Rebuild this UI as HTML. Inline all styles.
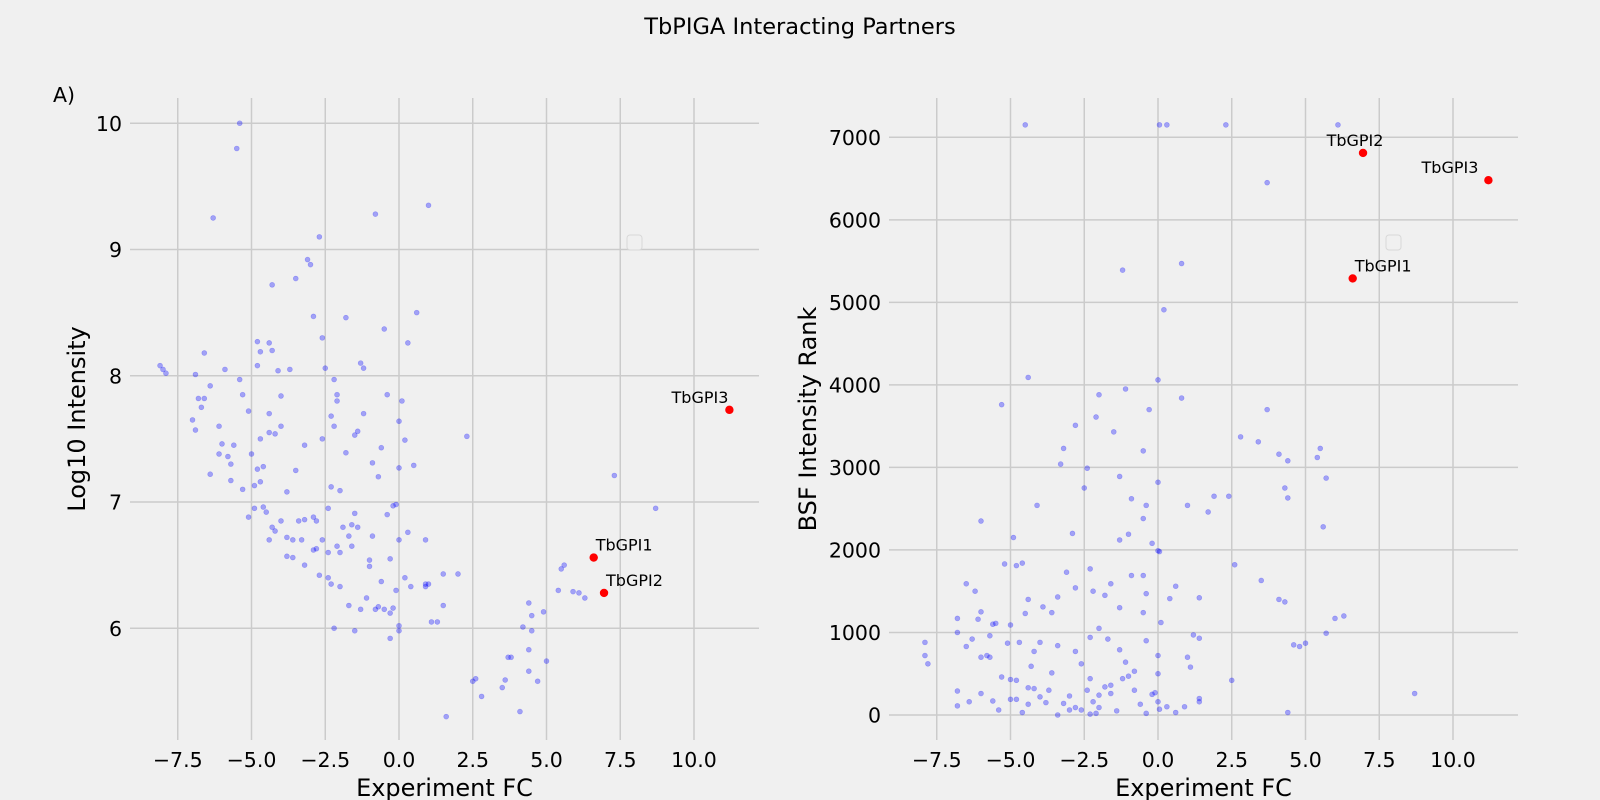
<!DOCTYPE html>
<html><head><meta charset="utf-8"><style>
body{margin:0;background:#f0f0f0;}
svg{display:block;font-family:"DejaVu Sans","Liberation Sans",sans-serif;}
</style></head><body>
<svg id="chart" width="1600" height="800" viewBox="0 0 1600 800">
<rect width="1600" height="800" fill="#f0f0f0"/>
<text x="800" y="34" font-size="22.5" text-anchor="middle" fill="#000">TbPIGA Interacting Partners</text>
<text x="53" y="102" font-size="20.5" fill="#000">A)</text>
<g id="left"></g>
<g id="right"></g>
</svg>
<script>
// Left panel data: Experiment FC vs Log10 Intensity
const leftX=[-8.1,-8.0,-7.9,-7.0,-6.9,-6.9,-6.8,-6.7,-6.6,-6.6,-6.4,-6.3,-6.4,-6.1,-6.1,-6.0,-5.9,-5.8,-5.7,-5.7,-5.6,-5.5,-5.4,-5.4,-5.3,-5.3,-5.1,-5.1,-5.0,-4.9,-4.8,-4.8,-4.8,-4.7,-4.7,-4.6,-4.7,-4.6,-4.5,-4.4,-4.4,-4.4,-4.3,-4.3,-4.3,-4.2,-4.2,-4.1,-4.0,-4.0,-3.8,-3.8,-3.7,-3.6,-3.5,-3.5,-3.3,-3.2,-3.2,-3.1,-3.0,-2.9,-2.9,-2.8,-2.7,-2.6,-2.6,-2.5,-2.4,-2.4,-2.3,-2.3,-2.2,-2.2,-2.1,-2.1,-2.0,-2.0,-2.0,-1.8,-1.8,-1.7,-1.6,-1.5,-1.5,-1.4,-1.3,-1.2,-1.2,-1.1,-1.0,-0.9,-0.9,-0.8,-0.7,-0.6,-0.5,-0.4,-0.4,-0.3,-0.2,-0.1,0.0,0.0,0.0,0.1,0.2,0.3,0.3,0.5,0.6,0.9,1.0,0.9,1.1,1.3,1.5,1.5,2.0,2.3,2.5,2.6,2.8,3.5,3.6,3.7,3.8,4.1,4.2,4.4,4.4,4.4,4.5,4.5,4.7,4.9,5.0,5.4,5.5,5.6,5.9,6.1,6.3,7.3,8.7,1.6,-0.3,-0.5,-0.6,-0.8,-1.0,-1.3,-1.5,-2.2,-2.4,-2.6,-2.8,-3.2,-3.6,-1.9,-1.6,-2.3,-0.1,0.2,0.9,-0.3,0.0,0.0,1.0,-1.7,-0.2,-0.7,0.4,-2.1,-1.4,-2.9,-3.4,-4.0,-4.4,-4.9,-3.8,-2.7];
const leftY=[8.08,8.05,8.02,7.65,7.57,8.01,7.82,7.75,7.82,8.18,7.22,9.25,7.92,7.38,7.6,7.46,8.05,7.36,7.3,7.17,7.45,9.8,10.0,7.97,7.85,7.1,7.72,6.88,7.38,7.13,8.27,8.08,7.26,7.5,8.19,6.96,7.16,7.28,6.92,7.7,8.26,7.55,6.8,8.2,8.72,7.54,6.77,8.04,7.84,7.6,6.72,7.08,8.05,6.56,7.25,8.77,6.7,6.86,7.45,8.92,8.88,8.47,6.62,6.85,9.1,7.5,8.3,8.06,6.95,6.6,7.12,7.68,7.6,7.97,7.85,7.8,7.09,6.6,6.33,8.46,7.39,6.73,6.82,7.53,6.91,7.56,8.1,8.06,7.7,6.24,6.54,7.31,6.73,9.28,7.2,7.43,8.37,7.85,6.9,6.55,6.97,6.98,6.7,7.64,7.27,7.8,7.49,8.26,6.76,7.29,8.5,6.7,9.35,6.35,6.05,6.05,6.43,6.18,6.43,7.52,5.58,5.6,5.46,5.53,5.59,5.77,5.77,5.34,6.01,6.2,5.83,5.66,5.98,6.1,5.58,6.13,5.74,6.3,6.47,6.5,6.29,6.28,6.24,7.21,6.95,5.3,6.12,6.15,6.37,6.15,6.49,6.15,5.98,6.0,6.4,6.7,6.63,6.5,6.7,6.8,6.65,6.35,6.3,6.4,6.33,5.92,5.98,6.02,6.35,6.18,6.16,6.17,6.33,6.65,6.8,6.88,6.85,6.85,6.7,6.95,6.57,6.42];
const hitNames=["TbGPI3","TbGPI1","TbGPI2"];
const hitX=[11.2,6.6,6.95];
const hitYLeft=[7.73,6.56,6.28];
const hitYRight=[6480,5290,6810];
// Right panel data: Experiment FC vs BSF Intensity Rank
const rightX=[-4.5,0.05,0.3,2.3,6.1,3.7,-1.2,0.8,0.2,-4.4,-5.3,0.0,-1.1,-2.0,-0.3,3.7,0.8,-2.1,-2.8,-1.5,2.8,3.4,4.1,4.4,5.5,5.4,5.7,-3.2,-3.3,-2.4,-0.5,0.0,-1.3,-0.9,1.0,1.7,1.9,2.4,4.3,4.4,5.6,-4.1,-0.4,-0.5,-0.2,-2.5,-2.9,-1.3,-1.0,0.0,0.05,-6.0,-4.9,-4.8,-4.6,-5.2,-3.1,-2.3,-1.6,-0.5,0.6,2.6,3.5,4.1,4.3,6.0,6.3,5.7,4.6,4.8,5.0,1.2,1.4,1.4,0.4,0.1,-0.4,-0.5,-0.9,-1.3,-1.8,-2.2,-2.8,-3.4,-3.6,-3.9,-4.4,-4.5,-5.0,-5.5,-5.7,-6.0,-6.2,-6.5,-6.8,-6.5,-7.9,-7.8,-7.9,-6.8,-6.3,-6.0,-5.8,-5.7,-5.1,-4.7,-4.2,-4.0,-3.4,-2.8,-2.3,-2.0,-1.7,-1.3,-0.8,-0.4,0.0,0.0,1.0,1.1,2.5,4.4,8.7,-6.8,-6.8,-6.4,-6.0,-5.6,-5.4,-5.0,-4.8,-4.8,-4.6,-4.4,-4.2,-4.0,-3.8,-3.6,-3.4,-3.2,-3.0,-2.8,-2.6,-2.4,-2.2,-2.0,-2.0,-1.8,-1.6,-1.4,-1.2,-1.0,-0.8,-0.6,-0.4,-0.2,0.0,0.3,0.6,0.9,1.4,1.4,-1.6,-2.3,-2.6,-1.1,-0.1,0.05,-3.0,-2.1,-2.3,-4.3,-4.4,-3.7,-5.0,-5.3,-6.1,-5.6];
const rightY=[7150,7150,7150,7150,7150,6450,5390,5470,4910,4090,3760,4060,3950,3880,3700,3700,3840,3610,3510,3430,3370,3310,3160,3080,3230,3120,2870,3230,3040,2990,3200,2820,2890,2620,2540,2460,2650,2650,2750,2630,2280,2540,2540,2380,2080,2750,2200,2120,2190,1990,1980,2350,2150,1810,1840,1830,1730,1770,1590,1690,1560,1820,1630,1400,1370,1170,1200,990,850,830,870,970,930,1420,1410,1120,1470,1240,1690,1300,1450,1500,1540,1430,1240,1310,1400,1230,1090,1110,960,1250,1500,1590,1170,830,880,620,720,1000,920,700,720,700,870,880,770,880,840,770,940,1050,920,790,530,900,720,500,700,580,420,30,260,290,110,160,260,170,60,430,420,190,30,130,320,220,150,510,0,140,230,90,60,300,160,240,90,340,360,50,440,470,300,130,20,250,160,100,30,100,160,200,260,440,620,640,270,70,60,20,10,590,330,300,190,460,1160,1100];

const NS="http://www.w3.org/2000/svg";
function mk(tag,attrs,parent){const e=document.createElementNS(NS,tag);for(const k in attrs)e.setAttribute(k,attrs[k]);parent.appendChild(e);return e;}

function panel(g,L,xs,ys,hy,yTicks,yMin,yMax,yLabel,yLabelX,legendX,key){
  const R=L+629,T=98,B=740;
  const x0=L+269;
  const sx=v=>x0+v*29.5;
  const sy=v=>B-(v-yMin)/(yMax-yMin)*(B-T);
  const xTicks=[-7.5,-5.0,-2.5,0.0,2.5,5.0,7.5,10.0];
  xTicks.forEach(t=>{
    const l=mk('line',{x1:sx(t),x2:sx(t),y1:T,y2:B,stroke:'#cbcbcb','stroke-width':1.5},g);
    
    
    const tx=mk('text',{x:sx(t),y:B+27,'font-size':20.5,'text-anchor':'middle',fill:'#000'},g);
    
    
    tx.textContent=(t<0?'\u2212':'')+Math.abs(t).toFixed(1);
  });
  yTicks.forEach(t=>{
    const l=mk('line',{x1:L,x2:R,y1:sy(t),y2:sy(t),stroke:'#cbcbcb','stroke-width':1.5},g);
    
    
    const tx=mk('text',{x:L-8,y:sy(t)+7.5,'font-size':20.5,'text-anchor':'end',fill:'#000'},g);
    
    
    tx.textContent=String(t);
  });
  for(let i=0;i<xs.length;i++){
    const c=mk('circle',{cx:sx(xs[i]),cy:sy(ys[i]),r:2.5,fill:'rgba(0,0,255,0.33)',stroke:'rgba(0,0,255,0.25)','stroke-width':0.6},g);
    
    
  }
  for(let i=0;i<hitX.length;i++){
    const c=mk('circle',{cx:sx(hitX[i]),cy:sy(hy[i]),r:4.2,fill:'#ff0000'},g);
    
    
    let anchor='start',dx=2,dy=-7;
    if(key==='L'&&hitNames[i]==='TbGPI3'){anchor='end';dx=-1;}
    if(key==='R'&&hitNames[i]==='TbGPI3'){anchor='end';dx=-10;}
    if(key==='R'&&hitNames[i]==='TbGPI2'){anchor='middle';dx=-8;}
    const t=mk('text',{x:sx(hitX[i])+dx,y:sy(hy[i])+dy,'font-size':16,'text-anchor':anchor,fill:'#000'},g);
    
    
    t.textContent=hitNames[i];
  }
  const lg=mk('rect',{x:legendX,y:235,width:15,height:15,rx:3,fill:'#f0f0f0',stroke:'#d8d8d8','stroke-width':1},g);
  
  
  const xl=mk('text',{x:(L+R)/2,y:796,'font-size':24,'text-anchor':'middle',fill:'#000'},g);
  
  
  xl.textContent='Experiment FC';
  const yl=mk('text',{x:0,y:0,'font-size':24,'text-anchor':'middle',fill:'#000',transform:`translate(${yLabelX},${(T+B)/2}) rotate(-90)`},g);
  
  
  yl.textContent=yLabel;
}
panel(document.getElementById('left'),130,leftX,leftY,hitYLeft,[6,7,8,9,10],5.115,10.2,'Log10 Intensity',85,627,'L');
panel(document.getElementById('right'),889,rightX,rightY,hitYRight,[0,1000,2000,3000,4000,5000,6000,7000],-303,7476,'BSF Intensity Rank',816,1386,'R');
</script>
</body></html>
